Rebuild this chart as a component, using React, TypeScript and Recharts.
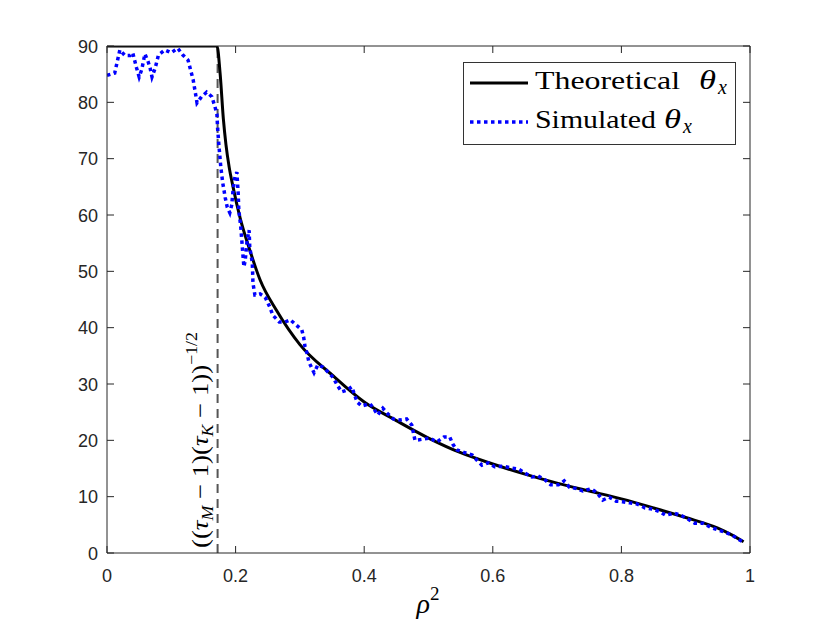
import React from "react";
import {
  ComposedChart,
  Line,
  XAxis,
  YAxis,
  ReferenceLine,
  Legend,
} from "recharts";

/* -------------------------------------------------------------------------- */
/*  Data                                     */
/* -------------------------------------------------------------------------- */

const theoryRho2 = [
  0, 0.171, 0.176, 0.181, 0.185, 0.19, 0.196, 0.207, 0.222, 0.238, 0.264,
  0.3, 0.35, 0.4, 0.45, 0.5, 0.55, 0.6, 0.65, 0.7, 0.75, 0.8, 0.85, 0.9,
  0.95, 0.97, 0.99,
];
const theoryTheta = [
  90, 90, 85, 77, 72.5, 68.5, 65, 59.5, 53.8, 48.5, 43, 37, 31.6, 26.8, 23.5,
  20.4, 17.8, 15.8, 14.0, 12.4, 11.0, 9.6, 8.0, 6.3, 4.4, 3.3, 2.0,
];

const simRho2 = [
  0, 0.012, 0.02, 0.028, 0.036, 0.04, 0.046, 0.05, 0.054, 0.059, 0.064,
  0.067, 0.07, 0.075, 0.08, 0.09, 0.1, 0.11, 0.118, 0.126, 0.134, 0.138,
  0.14, 0.147, 0.155, 0.163, 0.168, 0.171, 0.172, 0.174, 0.177, 0.18, 0.184,
  0.187, 0.191, 0.194, 0.196, 0.199, 0.202, 0.204, 0.205, 0.208, 0.21,
  0.212, 0.213, 0.215, 0.218, 0.221, 0.222, 0.226, 0.227, 0.23, 0.238,
  0.246, 0.253, 0.258, 0.268, 0.277, 0.285, 0.294, 0.303, 0.306, 0.308,
  0.311, 0.314, 0.319, 0.322, 0.328, 0.336, 0.344, 0.352, 0.358, 0.365,
  0.373, 0.381, 0.384, 0.389, 0.396, 0.409, 0.415, 0.421, 0.429, 0.435,
  0.445, 0.456, 0.466, 0.474, 0.479, 0.491, 0.502, 0.513, 0.524, 0.533,
  0.538, 0.544, 0.554, 0.568, 0.575, 0.583, 0.593, 0.603, 0.616, 0.628,
  0.64, 0.65, 0.661, 0.67, 0.681, 0.69, 0.702, 0.711, 0.719, 0.731, 0.74,
  0.753, 0.762, 0.771, 0.781, 0.792, 0.802, 0.813, 0.824, 0.837, 0.849,
  0.86, 0.869, 0.882, 0.894, 0.904, 0.914, 0.927, 0.938, 0.95, 0.961,
  0.972, 0.981, 0.989,
];
const simTheta = [
  84.8, 85.2, 89.3, 88.3, 88.3, 88.8, 86.1, 84.5, 85.8, 88.6, 87.2, 86.1,
  84.5, 86.1, 88.4, 89.3, 88.8, 89.6, 88.4, 87.5, 84, 81.3, 79.9, 81, 81.8,
  81, 79.2, 77.8, 75.4, 72.4, 68.5, 65.7, 63, 61.4, 60.4, 61.8, 64.4, 66.8,
  67.6, 63.9, 60.9, 57.9, 55, 52, 50.8, 52, 55.6, 57.3, 54.3, 51.5, 47.9,
  45.8, 46, 45.4, 43.7, 42.2, 41, 41, 41.4, 40.5, 39.6, 38.2, 36.6, 35.5,
  33.9, 32.7, 32, 33.4, 33, 32.1, 31.1, 29.8, 28.6, 28.9, 29.5, 28.4, 26.8,
  26.1, 26.5, 25.6, 24.5, 25.7, 24.9, 23.8, 23.6, 23.8, 22.7, 20, 20.2,
  20.4, 19.7, 20.6, 20.6, 19.3, 18.3, 17.9, 17.4, 16.5, 15.6, 16, 15.3,
  15.4, 15.1, 14.9, 14.2, 13.5, 13.7, 13, 12.1, 12.1, 12.8, 11.7, 11.4, 11,
  11.4, 10.7, 9.4, 9.9, 9.2, 9.1, 8.9, 8.7, 8, 7.8, 7.3, 6.7, 7.1, 6.6, 6,
  5.3, 5.3, 4.6, 4.1, 3.7, 3.2, 2.5, 2,
];

const xTicks = [0, 0.2, 0.4, 0.6, 0.8, 1];
const yTicks = [0, 10, 20, 30, 40, 50, 60, 70, 80, 90];
const thresholdRho2 = 0.172;

const theoryData = theoryRho2.map((x, i) => ({ x, theta: theoryTheta[i] }));
const simData = simRho2.map((x, i) => ({ x, theta: simTheta[i] }));

/* -------------------------------------------------------------------------- */
/*  Styling helpers                                                           */
/* -------------------------------------------------------------------------- */

const AXIS = "#262626";
const TICK_FONT = "'Liberation Sans', Arial, sans-serif";
const MATH_FONT = "'Liberation Serif', 'Times New Roman', serif";
const TICK_LEN = 7;

// MATLAB-style ticks: drawn inward, labels only on bottom/left
function BottomTick({ x, y, payload }: any) {
  return (
    <g>
      <line x1={x} x2={x} y1={y} y2={y - TICK_LEN} stroke={AXIS} />
      <text x={x} y={y + 29} textAnchor="middle" fill={AXIS}
        fontFamily={TICK_FONT} fontSize={18}>
        {String(payload.value)}
      </text>
    </g>
  );
}

function TopTick({ x, y }: any) {
  return <line x1={x} x2={x} y1={y} y2={y + TICK_LEN} stroke={AXIS} />;
}

function LeftTick({ x, y, payload }: any) {
  return (
    <g>
      <line x1={x} x2={x + TICK_LEN} y1={y} y2={y} stroke={AXIS} />
      <text x={x - 9} y={y + 6.5} textAnchor="end" fill={AXIS}
        fontFamily={TICK_FONT} fontSize={18}>
        {payload.value}
      </text>
    </g>
  );
}

function RightTick({ x, y }: any) {
  return <line x1={x} x2={x - TICK_LEN} y1={y} y2={y} stroke={AXIS} />;
}

function Rho2Label({ viewBox }: any) {
  const cx = viewBox.x + viewBox.width / 2;
  return (
    <text x={cx - 12} y={613} fill="#000" fontFamily={MATH_FONT} fontSize={28}>
      <tspan fontStyle="italic">ρ</tspan>
      <tspan fontSize={19} dy={-13}>2</tspan>
    </text>
  );
}

function ThresholdLabel({ viewBox }: any) {
  const x = viewBox.x - 10;
  const y = 548;
  return (
    <text x={x} y={y} transform={`rotate(-90 ${x} ${y})`} fill="#000"
      fontFamily={MATH_FONT} fontSize={24} textLength={216}
      lengthAdjust="spacingAndGlyphs">
      <tspan>((</tspan>
      <tspan fontStyle="italic">τ</tspan>
      <tspan fontStyle="italic" fontSize={16} dy={5}>M</tspan>
      <tspan dy={-5}> − 1)(</tspan>
      <tspan fontStyle="italic">τ</tspan>
      <tspan fontStyle="italic" fontSize={16} dy={5}>K</tspan>
      <tspan dy={-5}> − 1))</tspan>
      <tspan fontSize={16} dy={-11}>−1/2</tspan>
    </text>
  );
}

// Legend drawn as SVG so the serif text can be stretched to the reference width
function LegendBox() {
  return (
    <svg width={273} height={83} style={{ display: "block" }}>
      <rect x={0.5} y={0.5} width={272} height={82} fill="#fff" stroke="#333" />
      <line x1={7} x2={65} y1={21} y2={21} stroke="#000" strokeWidth={3} />
      <line x1={7} x2={65} y1={60} y2={60} stroke="#0000ff" strokeWidth={3.5}
        strokeDasharray="3.5 3.5" />
      <g fontFamily={MATH_FONT} fill="#000">
        <text x={72} y={27} fontSize={25} textLength={145}
          lengthAdjust="spacingAndGlyphs">Theoretical</text>
        <text x={236} y={27} fontSize={28} fontStyle="italic" textLength={17}
          lengthAdjust="spacingAndGlyphs">θ</text>
        <text x={255} y={32} fontSize={20} fontStyle="italic">x</text>
        <text x={72} y={66} fontSize={25} textLength={121}
          lengthAdjust="spacingAndGlyphs">Simulated</text>
        <text x={201} y={66} fontSize={28} fontStyle="italic" textLength={17}
          lengthAdjust="spacingAndGlyphs">θ</text>
        <text x={220} y={71} fontSize={20} fontStyle="italic">x</text>
      </g>
    </svg>
  );
}

/* -------------------------------------------------------------------------- */
/*  Chart                                                                     */
/* -------------------------------------------------------------------------- */

export default function App() {
  return (
    <div style={{ position: "absolute", left: 0, top: 0, background: "#fff" }}>
      <ComposedChart width={830} height={623}
        margin={{ top: 45, right: 79, bottom: 40, left: 67 }}>
        <XAxis xAxisId="bottom" dataKey="x" type="number" domain={[0, 1]}
          ticks={xTicks} allowDataOverflow height={30} stroke={AXIS}
          tickSize={0} tickMargin={0} tickLine={false} tick={<BottomTick />}
          label={<Rho2Label />} />
        <XAxis xAxisId="top" orientation="top" dataKey="x" type="number"
          domain={[0, 1]} ticks={xTicks} allowDataOverflow height={1}
          stroke={AXIS} tickSize={0} tickMargin={0} tickLine={false}
          tick={<TopTick />} />
        <YAxis yAxisId="left" type="number" domain={[0, 90]} ticks={yTicks}
          allowDataOverflow width={40} stroke={AXIS} tickSize={0}
          tickMargin={0} tickLine={false} tick={<LeftTick />} />
        <YAxis yAxisId="right" orientation="right" type="number"
          domain={[0, 90]} ticks={yTicks} allowDataOverflow width={1}
          stroke={AXIS} tickSize={0} tickMargin={0} tickLine={false}
          tick={<RightTick />} />

        <ReferenceLine xAxisId="bottom" yAxisId="left" x={thresholdRho2}
          stroke="#555" strokeWidth={2} strokeDasharray="9 6"
          label={<ThresholdLabel />} />

        {/* invisible copy so the top/right box axes get a domain */}
        <Line xAxisId="top" yAxisId="right" data={theoryData} dataKey="theta"
          stroke="none" dot={false} activeDot={false} legendType="none"
          isAnimationActive={false} />

        <Line xAxisId="bottom" yAxisId="left" data={theoryData}
          dataKey="theta" name="Theoretical" type="monotone" stroke="#000"
          strokeWidth={3} dot={false} isAnimationActive={false} />
        <Line xAxisId="bottom" yAxisId="left" data={simData} dataKey="theta"
          name="Simulated" type="linear" stroke="#0000ff" strokeWidth={3.5}
          strokeDasharray="3.5 3.5" dot={false} isAnimationActive={false} />

        <Legend layout="vertical" align="center" verticalAlign="middle"
          content={<LegendBox />}
          wrapperStyle={{ left: 463, top: 62, width: 273, height: 83 }} />
      </ComposedChart>
    </div>
  );
}
